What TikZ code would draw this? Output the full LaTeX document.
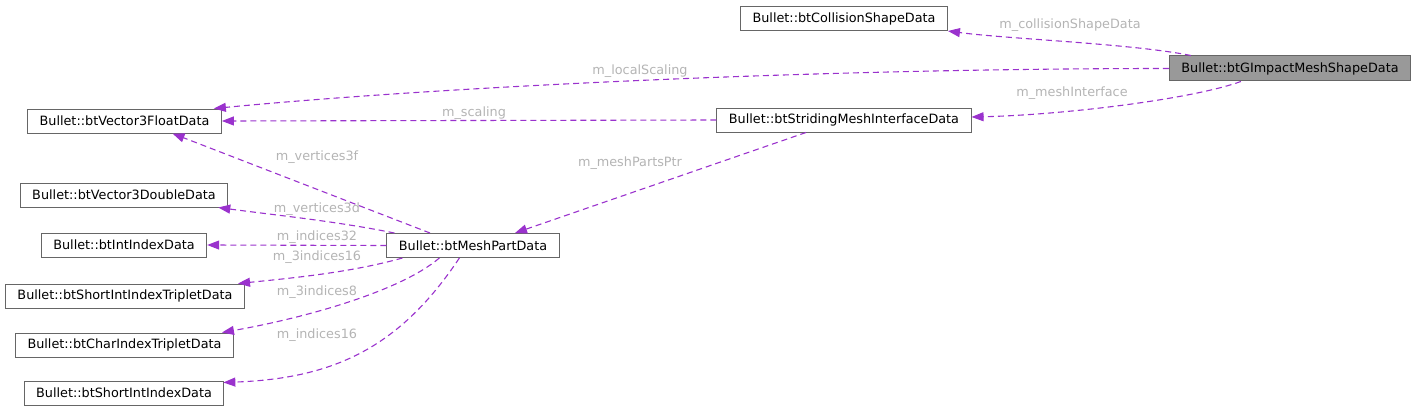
\documentclass[tikz,border=0pt]{standalone}
\usepackage{fontspec}
\setmainfont{DejaVu Sans}
\usepackage{xcolor}
\usepackage{tikz}
\usetikzlibrary{calc, arrows.meta}
\definecolor{edgepurple}{HTML}{9A32CD}
\definecolor{boxgray}{HTML}{666666}
\definecolor{mainfill}{HTML}{999999}
\definecolor{lblgray}{HTML}{B4B4B4}
\begin{document}
\begin{tikzpicture}[x=1pt, y=-1pt, font=\fontsize{12.8}{15}\selectfont]
   \tikzstyle{cls}=[draw=boxgray, line width=1pt, fill=white, minimum height=24pt, inner xsep=12pt, inner ysep=0pt]
   \tikzstyle{rel}=[draw=edgepurple, line width=1.1pt, dash pattern=on 6pt off 4pt, -{Triangle[length=12pt,width=9pt]}]
   \tikzstyle{lbl}=[text=lblgray, inner sep=0pt]
   \useasboundingbox (0,0) rectangle (1417,412);
   %% classes
\node[cls] (coll) at (844,18.5) {Bullet::btCollisionShapeData};
\node[cls, fill=mainfill, minimum height=25pt] (gimpact) at (1290,68.5) {Bullet::btGImpactMeshShapeData};
\node[cls] (vf) at (124.5,121) {Bullet::btVector3FloatData};
\node[cls] (striding) at (844,120) {Bullet::btStridingMeshInterfaceData};
\node[cls] (vd) at (124,195) {Bullet::btVector3DoubleData};
\node[cls] (ii) at (124,245) {Bullet::btIntIndexData};
\node[cls] (mesh) at (473,245.5) {Bullet::btMeshPartData};
\node[cls] (sitt) at (125,296) {Bullet::btShortIntIndexTripletData};
\node[cls] (cit) at (124.5,345) {Bullet::btCharIndexTripletData};
\node[cls] (sid) at (124,393) {Bullet::btShortIntIndexData};
   %% members
\draw[rel] ($(gimpact.north west)+(22,0)$) .. controls +(-60,-12) and +(60,8) .. (coll.south east);
\draw[rel] (gimpact.west) .. controls +(-350,0) and +(230,-22) .. ($(vf.north east)+(-8,0)$);
\draw[rel] ($(gimpact.south west)+(72,0)$) .. controls +(-50,18) and +(90,-2) .. ($(striding.east)+(0,-3)$);
\draw[rel] (striding.west) to (vf.east);
\draw[rel] ($(striding.south)+(-38,0)$) to ($(mesh.north)+(42,0)$);
\draw[rel] ($(mesh.north)+(-43,0)$) to ($(vf.south)+(48,0)$);
\draw[rel] ($(mesh.north west)+(8,0)$) .. controls +(-60,-12) and +(60,8) .. ($(vd.south east)+(-10,0)$);
\draw[rel] (mesh.west) to (ii.east);
\draw[rel] ($(mesh.south west)+(16,0)$) .. controls +(-50,14) and +(60,-6) .. ($(sitt.north east)+(-7,0)$);
\draw[rel] ($(mesh.south west)+(53,0)$) .. controls +(-40,34) and +(80,-14) .. ($(cit.north east)+(-12,0)$);
\draw[rel] ($(mesh.south west)+(73,0)$) .. controls +(-60,90) and +(110,-4) .. ($(sid.north east)+(-1,2)$);
   %% labels
\node[lbl] (lcoll) at (1070,25) {m\_collisionShapeData};
\node[lbl] (lscal) at (640,71) {m\_localScaling};
\node[lbl] (linter) at (1072,93) {m\_meshInterface};
\node[lbl] (lscaling) at (474,113) {m\_scaling};
\node[lbl] (lparts) at (630,163) {m\_meshPartsPtr};
\node[lbl] (lv3f) at (317,157) {m\_vertices3f};
\node[lbl] (lv3d) at (317,209) {m\_vertices3d};
\node[lbl] (li32) at (317,237) {m\_indices32};
\node[lbl] (l3i16) at (317,257) {m\_3indices16};
\node[lbl] (l3i8) at (317,292) {m\_3indices8};
\node[lbl] (li16) at (317,335) {m\_indices16};
\end{tikzpicture}
\end{document}
